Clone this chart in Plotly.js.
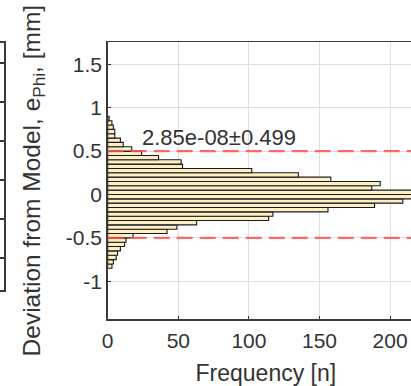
<!DOCTYPE html>
<html>
<head>
<meta charset="utf-8">
<script src="https://cdn.plot.ly/plotly-3.0.1.min.js"></script>
<style>
  html, body { margin: 0; padding: 0; overflow: hidden; background: #fff; }
  #chart { width: 440px; height: 386px; }
</style>
</head>
<body>
<div id="chart"></div>
<script>
// ---- data ----
// lower edge of each deviation bin [mm], bin width 0.05
const binLowerEdges = [-0.85,-0.80,-0.75,-0.70,-0.65,-0.60,-0.55,-0.50,-0.45,-0.40,-0.35,-0.30,-0.25,-0.20,-0.15,-0.10,-0.05,
                        0.00, 0.05, 0.10, 0.15, 0.20, 0.25, 0.30, 0.35, 0.40, 0.45, 0.50, 0.55, 0.60, 0.65, 0.70, 0.75, 0.80, 0.85];
const binCounts     = [3, 4, 6, 7, 9, 12, 13, 18, 42, 49, 63, 114, 117, 156, 189, 209, 221,
                       228, 187, 193, 158, 135, 102, 53, 52, 36, 24, 17, 11, 9, 5, 5, 4, 3, 1];
const binWidth = 0.05;
const meanValue = 2.85e-08;
const bandHalfWidth = 0.499;
const xTickValues = [0, 50, 100, 150, 200];
const yTickValues = [-1, -0.5, 0, 0.5, 1, 1.5];
// left (neighbouring, mostly cropped) panel
const leftTickValues = [-2, -1, 0, 1, 2, 3];
const leftBandLevels = [-1, 1];

const binCenters = binLowerEdges.map(e => e + binWidth / 2);

const W = 440, H = 386;
const ink = '#333333';
const fontFam = '"Liberation Sans", Arial, Helvetica, sans-serif';

const traces = [
  {
    type: 'bar',
    orientation: 'h',
    x: binCounts,
    y: binCenters,
    width: binWidth,
    marker: { color: '#fcf0c4', line: { color: '#1a1a1a', width: 1.1 } },
    xaxis: 'x', yaxis: 'y',
    hoverinfo: 'skip'
  },
  {
    type: 'scatter', mode: 'lines',
    x: [0, 1], y: [leftBandLevels[0], leftBandLevels[0]],
    line: { color: 'rgb(255,70,70)', width: 1.5, dash: '6px,4px' },
    xaxis: 'x2', yaxis: 'y2', hoverinfo: 'skip'
  },
  {
    type: 'scatter', mode: 'lines',
    x: [0, 1], y: [leftBandLevels[1], leftBandLevels[1]],
    line: { color: 'rgb(255,70,70)', width: 1.5, dash: '6px,4px' },
    xaxis: 'x2', yaxis: 'y2', hoverinfo: 'skip'
  }
];

const redLine = { color: 'rgba(255,80,80,0.85)', width: 2.2, dash: '16px,7px' };

const layout = {
  width: W, height: H,
  margin: { l: 0, r: 0, t: 0, b: 0, pad: 0 },
  paper_bgcolor: '#ffffff',
  plot_bgcolor: '#ffffff',
  showlegend: false,
  bargap: 0,
  font: { family: fontFam, color: ink, size: 21 },
  xaxis: {
    domain: [107.7 / W, 424 / W],
    range: [0, 224],
    tickvals: xTickValues,
    ticktext: xTickValues.map(String),
    showgrid: true, gridcolor: 'rgb(223,223,223)', gridwidth: 1,
    zeroline: false,
    showline: true, linecolor: '#3a3a3a', linewidth: 1.5, mirror: true,
    ticks: 'inside', ticklen: 3, tickcolor: ink,
    ticklabelstandoff: 2,
    tickfont: { size: 21, color: ink, family: fontFam },
    title: { text: 'Frequency [n]', font: { size: 23, color: ink, family: fontFam }, standoff: 16 },
    automargin: false,
    fixedrange: true
  },
  yaxis: {
    domain: [1 - 319.3 / H, 1 - 42 / H],
    range: [-1.438, 1.757],
    tickvals: yTickValues,
    ticktext: yTickValues.map(String),
    showgrid: true, gridcolor: 'rgb(223,223,223)', gridwidth: 1,
    zeroline: false,
    showline: true, linecolor: '#3a3a3a', linewidth: 1.5, mirror: true,
    ticks: 'inside', ticklen: 3, tickcolor: ink,
    tickfont: { size: 21, color: ink, family: fontFam },
    title: { text: 'Deviation from Model, e<sub>Phi</sub>, [mm]', font: { size: 24.5, color: ink, family: fontFam }, standoff: 18 },
    automargin: false,
    fixedrange: true
  },
  xaxis2: {
    domain: [0, 4 / W],
    range: [0, 1],
    anchor: 'y2',
    showgrid: false, zeroline: false, showticklabels: false, ticks: '',
    showline: true, linecolor: '#3a3a3a', linewidth: 1.5, mirror: true,
    fixedrange: true
  },
  yaxis2: {
    domain: [1 - 290 / H, 1 - 42.7 / H],
    range: [-2.82, 3.52],
    anchor: 'x2',
    tickvals: leftTickValues,
    showgrid: false, zeroline: false, showticklabels: false,
    ticks: 'inside', ticklen: 4, tickcolor: '#3a3a3a', tickwidth: 1.2,
    showline: true, linecolor: '#3a3a3a', linewidth: 1.5, mirror: 'ticks',
    fixedrange: true
  },
  shapes: [
    { type: 'line', xref: 'x domain', yref: 'y', x0: 0, x1: 1,
      y0: meanValue + bandHalfWidth, y1: meanValue + bandHalfWidth, line: redLine, layer: 'above' },
    { type: 'line', xref: 'x domain', yref: 'y', x0: 0, x1: 1,
      y0: meanValue - bandHalfWidth, y1: meanValue - bandHalfWidth, line: redLine, layer: 'above' }
  ],
  annotations: [
    {
      xref: 'x', yref: 'y',
      x: 23, y: 0.662,
      xanchor: 'left', yanchor: 'middle',
      text: meanValue.toExponential(2).replace('e-', 'e-0') + '±' + bandHalfWidth.toFixed(3),
      showarrow: false,
      font: { size: 22, color: ink, family: fontFam }
    }
  ]
};

Plotly.newPlot('chart', traces, layout, { displayModeBar: false, staticPlot: true });
</script>
</body>
</html>
